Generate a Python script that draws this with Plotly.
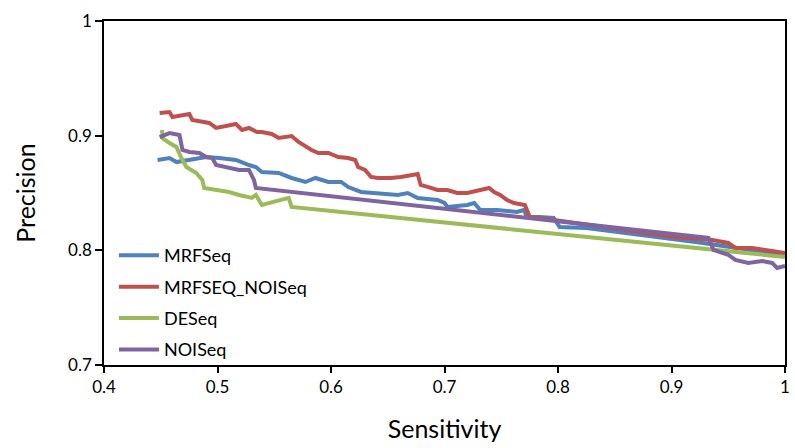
import plotly.graph_objects as go

# MRFSeq
mrf_x = [0.4472, 0.4577, 0.4638, 0.4752, 0.4901, 0.5015, 0.5163, 0.5277, 0.5338, 0.5391,
         0.5539, 0.5653, 0.5775, 0.5863, 0.5977, 0.6090, 0.6152, 0.6265, 0.6414, 0.6589,
         0.6676, 0.6764, 0.6939, 0.7000, 0.7026, 0.7201, 0.7262, 0.7315, 0.7463, 0.7638,
         0.7700, 0.7726, 0.7840, 0.7962, 0.8014, 0.8251, 0.9213, 1.0]
mrf_y = [0.8788, 0.8805, 0.8770, 0.8788, 0.8814, 0.8805, 0.8788, 0.8744, 0.8727, 0.8683,
         0.8675, 0.8631, 0.8596, 0.8631, 0.8596, 0.8596, 0.8552, 0.8509, 0.8500, 0.8483,
         0.8500, 0.8457, 0.8439, 0.8413, 0.8378, 0.8396, 0.8413, 0.8352, 0.8352, 0.8334,
         0.8352, 0.8291, 0.8291, 0.8282, 0.8204, 0.8195, 0.8073, 0.7960]

# MRFSEQ_NOISeq
mrfn_x = [0.4490, 0.4577, 0.4603, 0.4752, 0.4778, 0.4927, 0.4988, 0.5163, 0.5216, 0.5277,
          0.5347, 0.5391, 0.5478, 0.5539, 0.5653, 0.5714, 0.5828, 0.5889, 0.5977, 0.6064,
          0.6152, 0.6213, 0.6239, 0.6300, 0.6353, 0.6414, 0.6528, 0.6615, 0.6764, 0.6790,
          0.6851, 0.6939, 0.7026, 0.7113, 0.7201, 0.7393, 0.7437, 0.7490, 0.7551, 0.7612,
          0.7708, 0.7752, 0.7840, 0.7962, 0.8076, 0.8251, 0.9038, 0.9361, 0.9449, 0.9501,
          0.9563, 0.9711, 0.9886, 1.0]
mrfn_y = [0.9198, 0.9206, 0.9163, 0.9189, 0.9137, 0.9111, 0.9067, 0.9102, 0.9050, 0.9067,
          0.9032, 0.9032, 0.9015, 0.8980, 0.8997, 0.8945, 0.8875, 0.8849, 0.8849, 0.8814,
          0.8805, 0.8788, 0.8727, 0.8701, 0.8640, 0.8631, 0.8631, 0.8640, 0.8666, 0.8570,
          0.8553, 0.8526, 0.8526, 0.8500, 0.8500, 0.8544, 0.8509, 0.8483, 0.8439, 0.8413,
          0.8396, 0.8291, 0.8282, 0.8265, 0.8247, 0.8221, 0.8116, 0.8090, 0.8073, 0.8064,
          0.8021, 0.8021, 0.7994, 0.7977]

# DESeq
de_x = [0.4510, 0.4520, 0.4577, 0.4638, 0.4682, 0.4726, 0.4813, 0.4866, 0.4883, 0.4988,
        0.5102, 0.5189, 0.5303, 0.5338, 0.5391, 0.5627, 0.5653, 1.0]
de_y = [0.9050, 0.8975, 0.8936, 0.8901, 0.8805, 0.8727, 0.8675, 0.8614, 0.8544, 0.8526,
        0.8509, 0.8483, 0.8457, 0.8483, 0.8396, 0.8457, 0.8378, 0.7942]

# NOISeq
noi_x = [0.4490, 0.4577, 0.4665, 0.4691, 0.4752, 0.4840, 0.4901, 0.4953, 0.4988, 0.5102,
         0.5189, 0.5277, 0.5321, 0.5338, 0.9326, 0.9370, 0.9501, 0.9563, 0.9676, 0.9799,
         0.9886, 0.9930, 1.0]
noi_y = [0.8988, 0.9023, 0.9006, 0.8875, 0.8858, 0.8849, 0.8814, 0.8805, 0.8744, 0.8718,
         0.8701, 0.8701, 0.8614, 0.8544, 0.8108, 0.8003, 0.7960, 0.7916, 0.7890, 0.7907,
         0.7890, 0.7846, 0.7864]

series = [
    ("MRFSeq", mrf_x, mrf_y, "#4F81BD"),
    ("MRFSEQ_NOISeq", mrfn_x, mrfn_y, "#C0504D"),
    ("DESeq", de_x, de_y, "#9BBB59"),
    ("NOISeq", noi_x, noi_y, "#8064A2"),
]

FONT = "Lato, 'Open Sans', sans-serif"

fig = go.Figure()
for name, xs, ys, col in series:
    fig.add_trace(go.Scatter(x=xs, y=ys, mode="lines", name=name, legendgroup=name,
                             line=dict(color=col, width=4)))

fig.update_layout(
    width=795, height=448,
    margin=dict(l=104, r=5, t=21, b=83),
    paper_bgcolor="white", plot_bgcolor="white",
    font=dict(family=FONT, color="black", size=16),
    showlegend=True,
    legend=dict(x=0.0146, y=0.372, xanchor="left", yanchor="top",
                bgcolor="rgba(0,0,0,0)", font=dict(size=18, family=FONT),
                tracegroupgap=5, traceorder="grouped", itemwidth=40),
    xaxis=dict(range=[0.4, 1.0], dtick=0.1, tickformat=".1~f",
               showgrid=False, zeroline=False, showline=True, linecolor="black",
               linewidth=1.5, mirror=True, ticks="outside", ticklen=6, tickcolor="black",
               tickwidth=1.5, tickfont=dict(size=17),
               title=dict(text="Sensitivity", font=dict(size=25), standoff=24)),
    yaxis=dict(range=[0.7, 1.0], dtick=0.1, tickformat=".1~f",
               showgrid=False, zeroline=False, showline=True, linecolor="black",
               linewidth=1.5, mirror=True, ticks="outside", ticklen=7, tickcolor="black",
               tickwidth=1.5, tickfont=dict(size=17),
               title=dict(text="Precision", font=dict(size=25), standoff=25)),
)

fig.write_html("out.html")
